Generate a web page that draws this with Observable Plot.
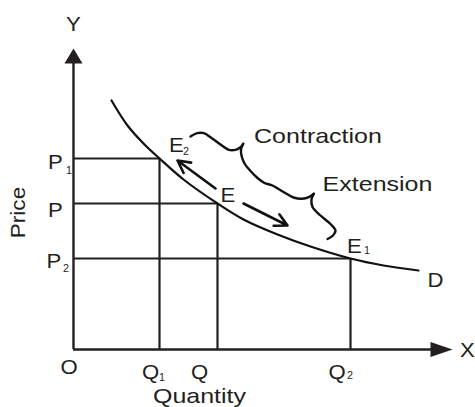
<!DOCTYPE html>
<html>
<head>
<meta charset="utf-8">
<script src="https://cdn.jsdelivr.net/npm/d3@7"></script>
<script src="https://cdn.jsdelivr.net/npm/@observablehq/plot@0.6"></script>
<style>
  html, body { margin: 0; padding: 0; background: #fff; }
  #chart { width: 475px; height: 407px; }
</style>
</head>
<body>
<div id="chart"></div>
<script>
// ---- Demand curve D (quantity, price) ----
const curveQ = [38, 54, 70, 86, 110, 144, 170, 204, 237, 277, 310, 345];
const curveP = [249, 224, 206, 191, 170, 146, 130, 115, 103, 91, 84, 79];

// ---- Equilibrium points on the curve ----
const pointNames = ["E2", "E", "E1"];
const pointQ = [86, 144, 277];   // Q1, Q, Q2
const pointP = [191, 146, 91];   // P1, P, P2

// ---- Axis extents ----
const xAxisEnd = 379;
const yAxisEnd = 301;

// ---- Movement arrows along the curve (from, to) ----
const arrowFromQ = [142, 170];
const arrowFromP = [161, 146];
const arrowToQ   = [104, 214];
const arrowToP   = [189, 124];

// ---- Braces (Contraction / Extension), as traced strokes ----
const braceSeg = ["a","a","a","a","a","a","a","a","a",
  "b","b","b","b","b","b","b","b","b","b","b","b","b",
  "c","c","c","c","c","c","c","c"];
const braceQ = [117, 123.7, 130.3, 137, 147, 155.3, 162, 167, 169.7,
  169.7, 167.5, 168, 171, 177, 184, 191, 199, 210, 220, 228.7, 235.3, 240.3,
  240.3, 238, 239, 247, 257, 262, 259.5, 254];
const braceP = [213, 216.3, 216.3, 212.3, 205, 199.7, 199.7, 202.3, 205.7,
  205.7, 200, 194, 186, 178.5, 171.5, 166.5, 164, 157.5, 152, 150.7, 152.3, 155.7,
  155.7, 150, 142.5, 134, 125.5, 119, 114, 110.5];

// ---- Text labels ----
const labelText = ["Y", "X", "O", "D", "P", "P", "P", "Q", "Q", "Q", "Quantity",
  "E", "E", "E", "Contraction", "Extension"];
const labelQ = [0, 394, -4.5, 362, -18, -18, -19.5, 77, 126, 263.5, 126,
  103, 154.5, 281, 244.5, 304];
const labelP = [325, -0.5, -17.5, 69.5, 187.5, 139.5, 88.5, -23, -23, -23, -47,
  204, 154.5, 103, 213.5, 165];

const subText = ["1", "2", "1", "2", "2", "1"];
const subQ = [-4.5, -7.5, 88.5, 276.5, 112.5, 293.5];
const subP = [179, 81, -28, -26.5, 197.5, 98.5];

const axisTitle = ["Price"];
const axisTitleQ = [-55.5];
const axisTitleP = [137];

// ---- Build tables ----
const curve = curveQ.map((q, i) => ({q, p: curveP[i]}));
const points = pointNames.map((n, i) => ({n, q: pointQ[i], p: pointP[i]}));
const arrows = arrowFromQ.map((q, i) => ({q1: q, p1: arrowFromP[i], q2: arrowToQ[i], p2: arrowToP[i]}));
const brace = braceSeg.map((s, i) => ({s, q: braceQ[i], p: braceP[i]}));
const labels = labelText.map((t, i) => ({t, q: labelQ[i], p: labelP[i]}));
const subs = subText.map((t, i) => ({t, q: subQ[i], p: subP[i]}));
const titles = axisTitle.map((t, i) => ({t, q: axisTitleQ[i], p: axisTitleP[i]}));

const yHead = [{q: 0, p: yAxisEnd}, {q: -9, p: yAxisEnd - 15}, {q: 9, p: yAxisEnd - 15}];
const xHead = [{q: xAxisEnd, p: 0}, {q: xAxisEnd - 22, p: 7.5}, {q: xAxisEnd - 22, p: -7.5}];

const ink = "#231f20";
const font = "'Liberation Sans', Arial, sans-serif";

const svg = Plot.plot({
  width: 475,
  height: 407,
  marginLeft: 73,
  marginRight: 22,
  marginTop: 48,
  marginBottom: 58,
  x: {domain: [0, 380], axis: null},
  y: {domain: [0, 301], axis: null},
  style: {fontFamily: font, background: "#fff", color: ink, overflow: "visible"},
  marks: [
    // drop lines
    Plot.ruleX(points, {x: "q", y1: 0, y2: "p", stroke: ink, strokeWidth: 2.2}),
    Plot.ruleY(points, {y: "p", x1: 0, x2: "q", stroke: ink, strokeWidth: 1.8}),
    // axes
    Plot.ruleY([0], {x1: 0, x2: xAxisEnd - 15, stroke: ink, strokeWidth: 2.4}),
    Plot.ruleX([0], {y1: 0, y2: yAxisEnd - 10, stroke: ink, strokeWidth: 2.4}),
    Plot.line(yHead, {x: "q", y: "p", fill: ink, stroke: "none"}),
    Plot.line(xHead, {x: "q", y: "p", fill: ink, stroke: "none"}),
    // demand curve
    Plot.line(curve, {x: "q", y: "p", curve: "catmull-rom", stroke: "#111", strokeWidth: 2.2}),
    // braces
    Plot.line(brace, {x: "q", y: "p", z: "s", curve: "catmull-rom", stroke: "#111", strokeWidth: 2.4}),
    // movement arrows
    Plot.arrow(arrows, {x1: "q1", y1: "p1", x2: "q2", y2: "p2", stroke: "#111",
      strokeWidth: 2.6, headLength: 8, headAngle: 55}),
    // labels
    Plot.text(labels, {x: "q", y: "p", text: "t", fontSize: 20.5, fill: ink}),
    Plot.text(subs, {x: "q", y: "p", text: "t", fontSize: 10, fill: ink}),
    Plot.text(titles, {x: "q", y: "p", text: "t", fontSize: 20.5, rotate: -90, fill: ink})
  ]
});

// Widen glyphs to match the reference's broad lettering
svg.querySelectorAll("text").forEach(t => {
  const tr = t.getAttribute("transform") || "";
  const len = (t.textContent || "").length;
  const k = tr.includes("rotate") ? 1.1 : (len > 2 ? 1.22 : 1.08);
  t.setAttribute("transform", (tr + ` scale(${k},1)`).trim());
});

document.getElementById("chart").appendChild(svg);
</script>
</body>
</html>
